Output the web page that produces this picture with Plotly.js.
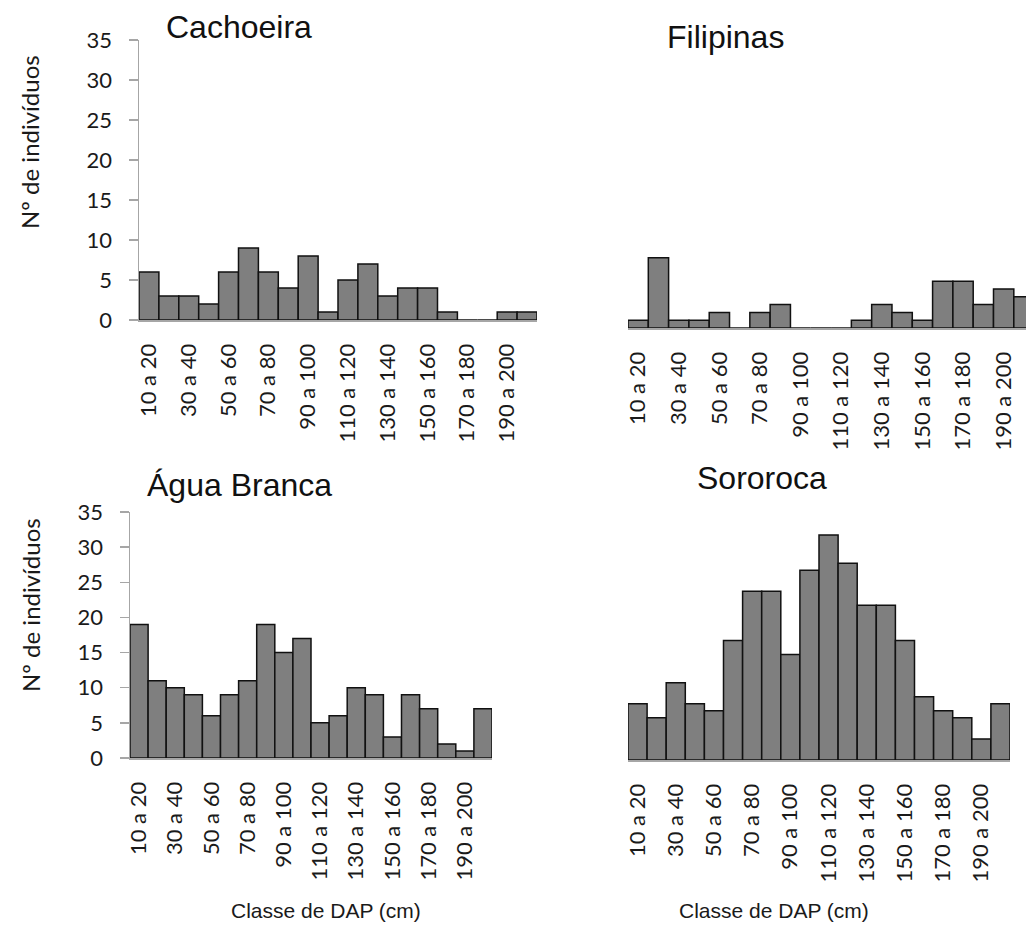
<!DOCTYPE html>
<html>
<head>
<meta charset="utf-8">
<script src="https://cdn.plot.ly/plotly-3.0.1.min.js"></script>
<style>html,body{margin:0;padding:0;background:#fff;}#chart{width:1026px;height:928px;}</style>
</head>
<body>
<div id="chart"></div>
<script>
// DAP classes (cm)
const categories = ["10 a 20","20 a 30","30 a 40","40 a 50","50 a 60","60 a 70","70 a 80","80 a 90","90 a 100","100 a 110",
  "110 a 120","120 a 130","130 a 140","140 a 150","150 a 160","160 a 170","170 a 180","180 a 190","190 a 200","200 a 210"];
const tickLabels = ["10 a 20","30 a 40","50 a 60","70 a 80","90 a 100","110 a 120","130 a 140","150 a 160","170 a 180","190 a 200"];

const cachoeira   = [6,3,3,2,6,9,6,4,8,1,5,7,3,4,4,1,0,0,1,1];
const filipinas   = [1,9,1,1,2,0,2,3,0,0,0,1,3,2,1,6,6,3,5,4];
const aguaBranca  = [19,11,10,9,6,9,11,19,15,17,5,6,10,9,3,9,7,2,1,7];
const sororoca    = [8,6,11,8,7,17,24,24,15,27,32,28,22,22,17,9,7,6,3,8];

const panelTitles = ["Cachoeira","Filipinas","Água Branca","Sororoca"];
const yTitle = "Nº de indivíduos";
const xTitle = "Classe de DAP (cm)";

const W = 1026, H = 928;
const px = v => v / W;
const py = v => 1 - v / H;

const tickFont = {family: "Lato, 'Open Sans', sans-serif", size: 22, color: "#1a1a1a"};
const barStyle = {color: "#7f7f7f", line: {color: "#111", width: 1.5}};

function bar(y, xa, ya) {
  return {type: "bar", x: categories, y: y, xaxis: xa, yaxis: ya, marker: barStyle, hoverinfo: "x+y", showlegend: false};
}

const data = [
  bar(cachoeira, "x", "y"),
  bar(filipinas, "x2", "y2"),
  bar(aguaBranca, "x3", "y3"),
  bar(sororoca, "x4", "y4")
];

function xax(domain, anchor, range) {
  return {domain: domain, anchor: anchor, type: "category", range: range,
    showline: true, linecolor: "#a6a6a6", linewidth: 2, ticks: "", showgrid: false, zeroline: false,
    tickangle: -90, tickmode: "array", tickvals: tickLabels, ticktext: tickLabels, tickfont: tickFont,
    ticklabelstandoff: 13, fixedrange: true};
}
function yax(domain, anchor, visible) {
  return {domain: domain, anchor: anchor, range: [0, 35], dtick: 5, tick0: 0,
    visible: visible, showline: true, linecolor: "#a6a6a6", linewidth: 1.5,
    ticks: "outside", ticklen: 9, tickcolor: "#a6a6a6", tickwidth: 1.5,
    showgrid: false, zeroline: false, tickfont: tickFont, ticklabelstandoff: 12, fixedrange: true};
}

const titleFont = {family: "Liberation Sans, Arial, sans-serif", size: 32, color: "#111"};
const yTitleFont = {family: "Lato, 'Open Sans', sans-serif", size: 24, color: "#1a1a1a"};
const xTitleFont = {family: "Liberation Sans, Arial, sans-serif", size: 21, color: "#1a1a1a"};

const layout = {
  width: W, height: H,
  margin: {l: 0, r: 0, t: 0, b: 0},
  paper_bgcolor: "#fff", plot_bgcolor: "#fff",
  bargap: 0,
  xaxis:  xax([px(139), px(537)], "y",  [-0.5, 19.5]),
  yaxis:  yax([py(320), py(40)], "x", true),
  xaxis2: xax([px(628), 1], "y2", [-0.5, 19.1]),
  yaxis2: yax([py(328), py(55)], "x2", false),
  xaxis3: xax([px(130), px(492)], "y3", [-0.5, 19.5]),
  yaxis3: yax([py(758), py(512)], "x3", true),
  xaxis4: xax([px(628), px(1010)], "y4", [-0.5, 19.5]),
  yaxis4: yax([py(760), py(514)], "x4", false),
  annotations: [
    {text: panelTitles[0], x: px(164), y: py(27), xref: "paper", yref: "paper", xanchor: "left", yanchor: "middle", showarrow: false, font: titleFont},
    {text: panelTitles[1], x: px(665), y: py(37), xref: "paper", yref: "paper", xanchor: "left", yanchor: "middle", showarrow: false, font: titleFont},
    {text: panelTitles[2], x: px(145), y: py(485), xref: "paper", yref: "paper", xanchor: "left", yanchor: "middle", showarrow: false, font: titleFont},
    {text: panelTitles[3], x: px(695), y: py(478), xref: "paper", yref: "paper", xanchor: "left", yanchor: "middle", showarrow: false, font: titleFont},
    {text: yTitle, x: px(30), y: py(142), xref: "paper", yref: "paper", xanchor: "center", yanchor: "middle", textangle: -90, showarrow: false, font: yTitleFont},
    {text: yTitle, x: px(30), y: py(605), xref: "paper", yref: "paper", xanchor: "center", yanchor: "middle", textangle: -90, showarrow: false, font: yTitleFont},
    {text: xTitle, x: px(326), y: py(910), xref: "paper", yref: "paper", xanchor: "center", yanchor: "middle", showarrow: false, font: xTitleFont},
    {text: xTitle, x: px(774), y: py(910), xref: "paper", yref: "paper", xanchor: "center", yanchor: "middle", showarrow: false, font: xTitleFont}
  ]
};

Plotly.newPlot("chart", data, layout, {displayModeBar: false, staticPlot: true});
</script>
</body>
</html>
